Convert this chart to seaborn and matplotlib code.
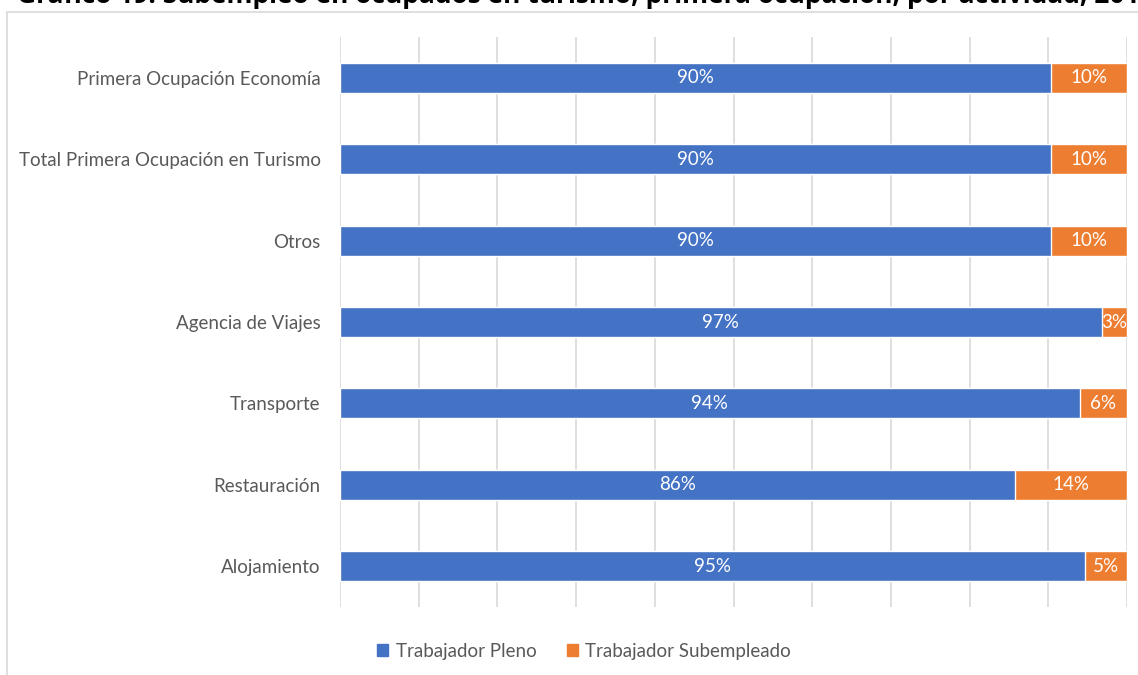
import numpy as np
import pandas as pd
import seaborn as sns
import matplotlib.pyplot as plt
from matplotlib.patches import Rectangle

categorias = ["Primera Ocupación Economía", "Total Primera Ocupación en Turismo", "Otros",
              "Agencia de Viajes", "Transporte", "Restauración", "Alojamiento"]
pleno = [90.3, 90.3, 90.3, 96.8, 94.0, 85.8, 94.7]
subempleado = [9.7, 9.7, 9.7, 3.2, 6.0, 14.2, 5.3]

titulo = "Gráfico 19: Subempleo en ocupados en turismo, primera ocupación, por actividad, 2019"

azul = "#4472C4"
naranjo = "#ED7D31"

sns.set_theme(style="white")
plt.rcParams["font.family"] = ["Lato", "DejaVu Sans"]

df = pd.DataFrame({"cat": categorias, "pleno": pleno, "sub": subempleado})
df["total"] = df["pleno"] + df["sub"]

fig = plt.figure(figsize=(11.38, 6.75), dpi=100)
ax = fig.add_axes([340 / 1138, 1 - 607 / 675, 787 / 1138, 570 / 675])

# orange = full bar, blue drawn on top
sns.barplot(data=df, x="total", y="cat", color=naranjo, orient="h", width=0.37,
            saturation=1, ax=ax, zorder=2)
sns.barplot(data=df, x="pleno", y="cat", color=azul, orient="h", width=0.37,
            saturation=1, ax=ax, zorder=3)

ax.set_xlim(0, 100)
ax.set_ylim(6.5, -0.5)
ax.set_xticks(np.arange(0, 101, 10))
ax.set_xticklabels([])
ax.tick_params(axis="x", length=0)
ax.tick_params(axis="y", length=0, pad=14, labelsize=13.5, labelcolor="#595959")
ax.grid(axis="x", color="#D9D9D9", linewidth=1.2, zorder=0)
ax.set_axisbelow(True)
for s in ax.spines.values():
    s.set_visible(False)
ax.set_xlabel("")
ax.set_ylabel("")

for i in range(len(categorias)):
    ax.text(pleno[i] / 2, i, f"{pleno[i]:.0f}%", ha="center", va="center",
            color="white", fontsize=13.5, zorder=5)
    ax.text(pleno[i] + subempleado[i] / 2, i, f"{subempleado[i]:.0f}%", ha="center",
            va="center", color="white", fontsize=13.5, zorder=5)

# chart area border
fig.patches.append(Rectangle((7 / 1138, -0.1), 1.2, 1 - 12 / 675 + 0.1,
                             transform=fig.transFigure, fill=False,
                             edgecolor="#D9D9D9", linewidth=1.2))

# title is cut off at the top in the original image
fig.text(17 / 1138, 1 - 3 / 675, titulo, ha="left", va="baseline", fontsize=19,
         fontweight="bold", color="black", family=["Open Sans", "DejaVu Sans"])

handles = [Rectangle((0, 0), 1, 1, color=azul), Rectangle((0, 0), 1, 1, color=naranjo)]
fig.legend(handles, ["Trabajador Pleno", "Trabajador Subempleado"], loc="center",
           bbox_to_anchor=(584 / 1138, 1 - 651 / 675), ncol=2, frameon=False,
           fontsize=13.5, handlelength=0.6, handleheight=0.6, handletextpad=0.4,
           columnspacing=1.6, labelcolor="#595959")

fig.savefig("out.png", dpi=100)
